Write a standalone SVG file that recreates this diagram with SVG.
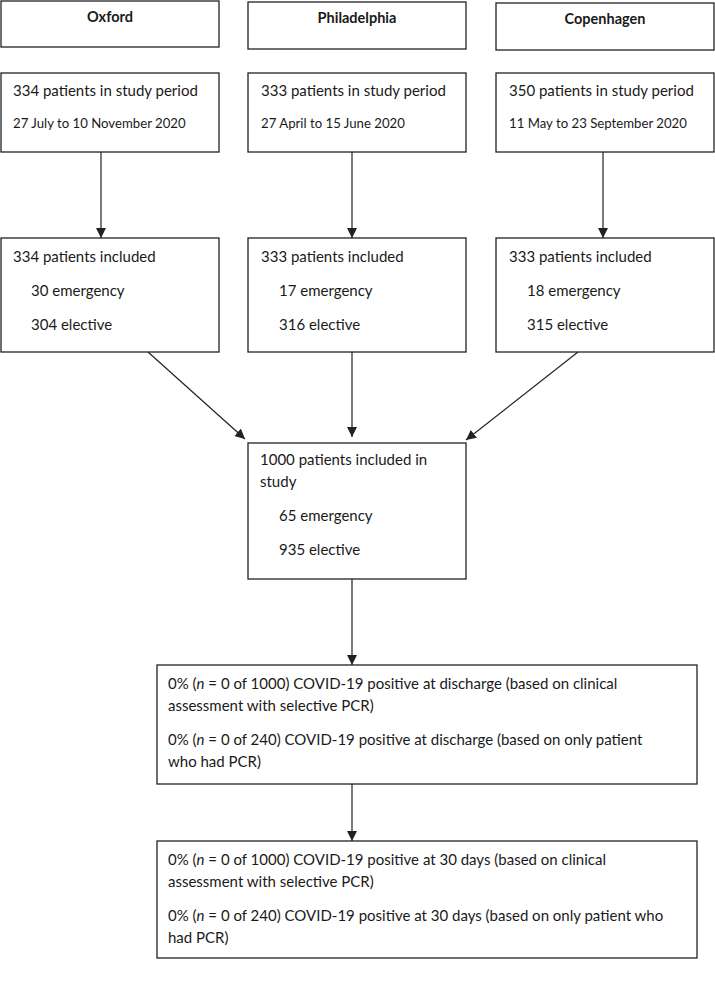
<svg xmlns="http://www.w3.org/2000/svg" width="715" height="983" viewBox="0 0 715 983">
<style>
rect{fill:#fff;stroke:#222;stroke-width:1.3}
text{font-family:Lato,"Open Sans",sans-serif;font-size:15px;fill:#1a1a1a}
.h{font-weight:bold;font-size:14.5px;text-anchor:middle}
.d{font-size:13.2px}
.c line{stroke:#222;stroke-width:1.2;marker-end:url(#a)}
</style>
<defs><marker id="a" viewBox="0 0 10 10" refX="10" refY="5" markerWidth="10" markerHeight="10" markerUnits="userSpaceOnUse" orient="auto"><path d="M0,0L10,5L0,10z" fill="#222"/></marker></defs>
<rect width="715" height="983" style="stroke:none"/>
<g class="c">
<line x1="101" y1="152" x2="101" y2="238"/>
<line x1="352" y1="152" x2="352" y2="238"/>
<line x1="603" y1="152" x2="603" y2="238"/>
<line x1="148" y1="352" x2="245" y2="439"/>
<line x1="352" y1="352" x2="352" y2="437"/>
<line x1="578" y1="352" x2="466" y2="440"/>
<line x1="352" y1="579" x2="352" y2="665"/>
<line x1="352" y1="784" x2="352" y2="841"/>
</g>
<g id="oxford"><rect x="1" y="1" width="218" height="46"/><text class="h" x="110" y="22">Oxford</text></g>
<g id="phil"><rect x="248" y="2" width="218" height="47"/><text class="h" x="357" y="23">Philadelphia</text></g>
<g id="copen"><rect x="496" y="3" width="218" height="47"/><text class="h" x="605" y="24">Copenhagen</text></g>
<g id="ox2"><rect x="1" y="73" width="218" height="79"/><text x="13" y="96">334 patients in study period</text><text class="d" x="13" y="128">27 July to 10 November 2020</text></g>
<g id="ph2"><rect x="248" y="73" width="218" height="79"/><text x="261" y="96">333 patients in study period</text><text class="d" x="261" y="128">27 April to 15 June 2020</text></g>
<g id="co2"><rect x="496" y="73" width="218" height="79"/><text x="509" y="96">350 patients in study period</text><text class="d" x="509" y="128">11 May to 23 September 2020</text></g>
<g id="ox3"><rect x="1" y="238" width="218" height="114"/><text x="13" y="262">334 patients included</text><text x="31" y="296">30 emergency</text><text x="31" y="330">304 elective</text></g>
<g id="ph3"><rect x="248" y="238" width="218" height="114"/><text x="261" y="262">333 patients included</text><text x="279" y="296">17 emergency</text><text x="279" y="330">316 elective</text></g>
<g id="co3"><rect x="496" y="238" width="218" height="114"/><text x="509" y="262">333 patients included</text><text x="527" y="296">18 emergency</text><text x="527" y="330">315 elective</text></g>
<g id="total"><rect x="248" y="443" width="218" height="136"/><text x="260" y="465">1000 patients included in</text><text x="260" y="487">study</text><text x="279" y="521">65 emergency</text><text x="279" y="555">935 elective</text></g>
<g id="discharge"><rect x="157" y="665" width="540" height="119"/>
<text x="168" y="689">0% (<tspan font-style="italic">n</tspan> = 0 of 1000) COVID-19 positive at discharge (based on clinical</text>
<text x="168" y="711">assessment with selective PCR)</text>
<text x="168" y="745">0% (<tspan font-style="italic">n</tspan> = 0 of 240) COVID-19 positive at discharge (based on only patient</text>
<text x="168" y="767">who had PCR)</text></g>
<g id="day30"><rect x="157" y="841" width="540" height="117"/>
<text x="168" y="865">0% (<tspan font-style="italic">n</tspan> = 0 of 1000) COVID-19 positive at 30 days (based on clinical</text>
<text x="168" y="887">assessment with selective PCR)</text>
<text x="168" y="921">0% (<tspan font-style="italic">n</tspan> = 0 of 240) COVID-19 positive at 30 days (based on only patient who</text>
<text x="168" y="943">had PCR)</text></g>
</svg>
